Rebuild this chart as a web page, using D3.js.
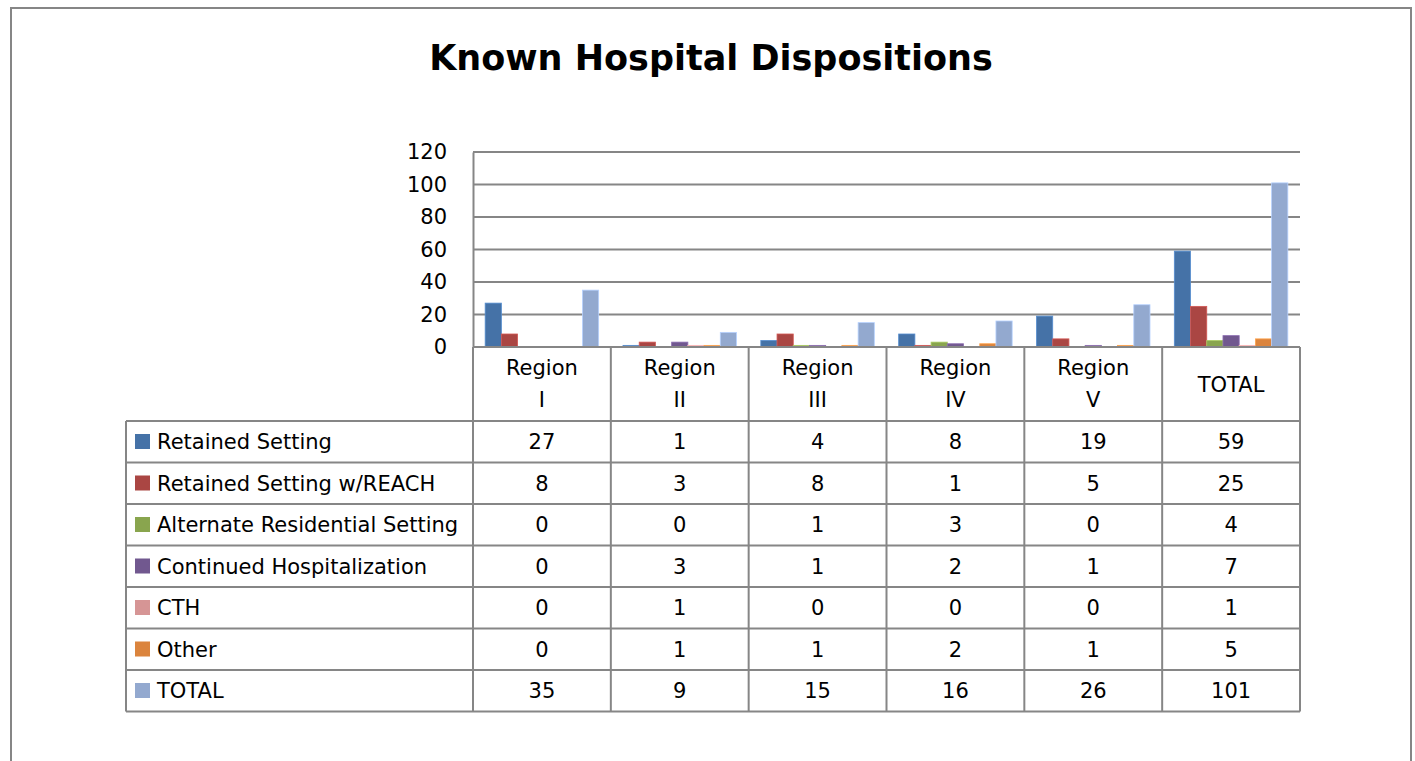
<!DOCTYPE html>
<html>
<head>
<meta charset="utf-8">
<script src="https://cdn.jsdelivr.net/npm/d3@7"></script>
<style>
  body { margin: 0; background: #fff; }
  text { font-family: "DejaVu Sans", sans-serif; fill: #000; }
</style>
</head>
<body>
<div id="chart"></div>
<script>
const categories = ["Region I", "Region II", "Region III", "Region IV", "Region V", "TOTAL"];
const series = ["Retained Setting", "Retained Setting w/REACH", "Alternate Residential Setting",
  "Continued Hospitalization", "CTH", "Other", "TOTAL"];
const colors = ["#4572A7", "#AA4643", "#89A54E", "#71588F", "#D69595", "#DB843D", "#93A9CF"];

const retained = [27, 1, 4, 8, 19, 59];
const retainedReach = [8, 3, 8, 1, 5, 25];
const alternate = [0, 0, 1, 3, 0, 4];
const continued = [0, 3, 1, 2, 1, 7];
const cth = [0, 1, 0, 0, 0, 1];
const other = [0, 1, 1, 2, 1, 5];
const total = [35, 9, 15, 16, 26, 101];
const yTicks = [0, 20, 40, 60, 80, 100, 120];

const values = [retained, retainedReach, alternate, continued, cth, other, total];

const W = 1415, H = 761;
const svg = d3.select("#chart").append("svg")
  .attr("width", W)
  .attr("height", H);

const grey = "#868686";
const fs = 21;

// outer frame
svg.append("rect")
  .attr("x", 11).attr("y", 8)
  .attr("width", 1400).attr("height", 770)
  .attr("fill", "none")
  .attr("stroke", grey)
  .attr("stroke-width", 2);

svg.append("text")
  .attr("x", 711).attr("y", 70)
  .attr("text-anchor", "middle")
  .attr("font-size", 35)
  .attr("font-weight", "bold")
  .text("Known Hospital Dispositions");

const x0 = d3.scaleBand()
  .domain(categories)
  .range([473, 1300]);

const x1 = d3.scaleBand()
  .domain(series)
  .range([0, x0.bandwidth()])
  .paddingOuter(0.75);

const y = d3.scaleLinear()
  .domain([0, 120])
  .range([347, 152]);

// gridlines
svg.append("g")
  .selectAll("line")
  .data(yTicks.filter(d => d > 0))
  .join("line")
  .attr("x1", 473).attr("x2", 1300)
  .attr("y1", d => y(d)).attr("y2", d => y(d))
  .attr("stroke", grey)
  .attr("stroke-width", 2);

// bars
const rows = categories.map((c, i) => series.map((s, j) => ({ cat: c, s: s, v: values[j][i], color: colors[j] })));
svg.append("g")
  .selectAll("g")
  .data(rows)
  .join("g")
  .attr("transform", (d, i) => `translate(${x0(categories[i])},0)`)
  .selectAll("rect")
  .data(d => d)
  .join("rect")
  .attr("x", d => x1(d.s))
  .attr("y", d => y(d.v))
  .attr("width", x1.bandwidth())
  .attr("height", d => y(0) - y(d.v))
  .attr("fill", d => d.color)
  .attr("stroke", d => d3.color(d.color).brighter(0.6))
  .attr("stroke-width", 0.8);

// y axis
const yAxis = g => g
  .attr("transform", "translate(473,0)")
  .call(d3.axisLeft(y).tickValues(yTicks).tickSize(0).tickPadding(26))
  .call(g => g.select(".domain").attr("stroke", grey).attr("stroke-width", 2))
  .call(g => g.selectAll("text").attr("font-size", fs).style("font-family", "'DejaVu Sans', sans-serif"));
svg.append("g").call(yAxis);

// data table
const tableTop = 347, headerBottom = 421, rowH = 41.5;
const tableBottom = headerBottom + rowH * series.length;
const legendLeft = 126;
const tbl = svg.append("g");

// horizontal lines
tbl.append("line")
  .attr("x1", 473).attr("x2", 1300)
  .attr("y1", tableTop).attr("y2", tableTop)
  .attr("stroke", grey).attr("stroke-width", 2);
tbl.selectAll("line.h")
  .data(d3.range(series.length + 1))
  .join("line")
  .attr("class", "h")
  .attr("x1", legendLeft).attr("x2", 1300)
  .attr("y1", i => headerBottom + i * rowH)
  .attr("y2", i => headerBottom + i * rowH)
  .attr("stroke", grey).attr("stroke-width", 2);

// vertical lines
const colEdges = categories.map(c => x0(c)).concat([1300]);
tbl.selectAll("line.v")
  .data(colEdges)
  .join("line")
  .attr("class", "v")
  .attr("x1", d => d).attr("x2", d => d)
  .attr("y1", tableTop).attr("y2", tableBottom)
  .attr("stroke", grey).attr("stroke-width", 2);
tbl.append("line")
  .attr("x1", legendLeft).attr("x2", legendLeft)
  .attr("y1", headerBottom).attr("y2", tableBottom)
  .attr("stroke", grey).attr("stroke-width", 2);

// header labels
tbl.selectAll("text.hd")
  .data(categories)
  .join("text")
  .attr("class", "hd")
  .attr("x", d => x0(d) + x0.bandwidth() / 2)
  .attr("text-anchor", "middle")
  .attr("font-size", fs)
  .each(function (d) {
    const parts = d.split(" ");
    const t = d3.select(this);
    const cx = x0(d) + x0.bandwidth() / 2;
    if (parts.length === 1) {
      t.append("tspan").attr("x", cx).attr("y", 392).text(d);
    } else {
      t.append("tspan").attr("x", cx).attr("y", 375).text(parts[0]);
      t.append("tspan").attr("x", cx).attr("y", 407).text(parts[1]);
    }
  });

// legend cells
const leg = tbl.selectAll("g.leg")
  .data(series)
  .join("g")
  .attr("class", "leg")
  .attr("transform", (d, i) => `translate(0,${headerBottom + i * rowH})`);
leg.append("rect")
  .attr("x", 135).attr("y", 13)
  .attr("width", 15).attr("height", 15)
  .attr("fill", (d, i) => colors[i]);
leg.append("text")
  .attr("x", 157).attr("y", 28)
  .attr("font-size", fs)
  .text(d => d);

// value cells
leg.selectAll("text.val")
  .data((d, i) => values[i].map((v, k) => ({ v: v, cat: categories[k] })))
  .join("text")
  .attr("class", "val")
  .attr("x", d => x0(d.cat) + x0.bandwidth() / 2)
  .attr("y", 28)
  .attr("text-anchor", "middle")
  .attr("font-size", fs)
  .text(d => d.v);
</script>
</body>
</html>
